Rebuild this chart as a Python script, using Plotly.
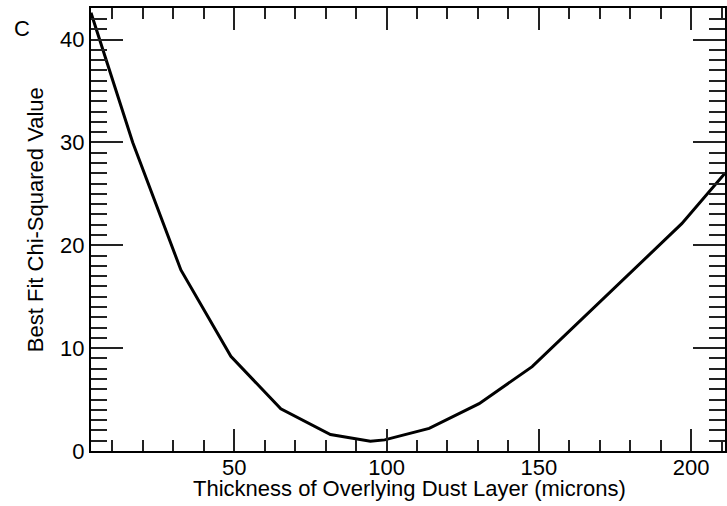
import plotly.graph_objects as go

# Best-fit chi-squared as a function of overlying dust layer thickness
thickness_um = [3.0, 16.7, 32.5, 48.9, 65.3, 81.6, 94.7, 99.4, 114.0, 130.4, 147.8, 196.9, 211.1]
chi_squared = [42.6, 30.0, 17.6, 9.2, 4.1, 1.6, 0.95, 1.08, 2.2, 4.6, 8.2, 22.1, 27.0]

x_tick_vals = [50, 100, 150, 200]
y_tick_vals = [0, 10, 20, 30, 40]

FONT = "Liberation Sans, Arial, Helvetica, sans-serif"
W, H = 727, 506
L, R, T, B = 91, 0, 8, 55

fig = go.Figure()
fig.add_trace(go.Scatter(
    x=thickness_um, y=chi_squared, mode="lines",
    line=dict(color="black", width=3), showlegend=False,
))

axis_common = dict(
    showgrid=False, zeroline=False, showline=True, linecolor="black", linewidth=2,
    mirror="allticks", ticks="inside", tickcolor="#222", tickwidth=1.5,
    tickfont=dict(family=FONT, size=22, color="black"),
)

fig.update_xaxes(
    range=[3.0, 211.1], tickvals=x_tick_vals, ticklen=22, ticklabelstandoff=-4,
    minor=dict(dtick=10, tick0=0, ticks="inside", ticklen=11, tickcolor="#222", tickwidth=1.5),
    **axis_common,
)
fig.update_yaxes(
    range=[0, 43.07], tickvals=y_tick_vals, ticklen=32,
    minor=dict(dtick=1, tick0=0, ticks="inside", ticklen=16, tickcolor="#222", tickwidth=1.5),
    **axis_common,
)

pw, ph = W - L - R, H - T - B


def px(xp):
    return (xp - L) / pw


def py(yp):
    return (H - B - yp) / ph


fig.add_annotation(
    text="Thickness of Overlying Dust Layer (microns)", xref="paper", yref="paper",
    x=px(411), y=py(488), xanchor="center", yanchor="middle", showarrow=False,
    font=dict(family=FONT, size=22, color="black"),
)
fig.add_annotation(
    text="Best Fit Chi-Squared Value", xref="paper", yref="paper", textangle=-90,
    x=px(35), y=py(220), xanchor="center", yanchor="middle", showarrow=False,
    font=dict(family=FONT, size=22, color="black"),
)
fig.add_annotation(
    text="C", xref="paper", yref="paper",
    x=px(21.3), y=py(28.7), xanchor="center", yanchor="middle", showarrow=False,
    font=dict(family=FONT, size=22, color="black"),
)

fig.update_layout(
    width=W, height=H, margin=dict(l=L, r=R, t=T, b=B, pad=0),
    paper_bgcolor="white", plot_bgcolor="white",
)

fig.write_html("out.html")
